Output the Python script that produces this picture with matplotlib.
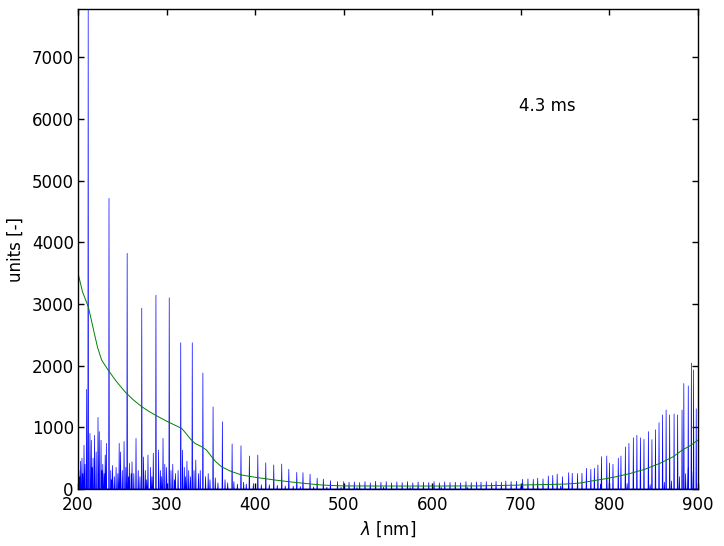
import matplotlib
matplotlib.use("Agg")
import matplotlib.pyplot as plt

# main comb peaks (nm, counts)
comb_nm = [211.5, 235, 255.5, 272, 288, 303, 316, 329, 341, 352.5, 363, 374, 384, 393.5, 403, 412, 421, 430,
           438, 447, 454, 462, 470, 477, 485, 493, 500,
           506, 512, 518, 524, 530, 536, 542, 548, 554, 560, 566, 572, 578, 584, 590, 596, 602, 608, 614,
           620, 626, 632, 638, 644, 650, 655, 661, 667, 672, 678, 683, 689, 695,
           702, 708, 714, 719, 725, 731, 736, 741, 747, 754, 758, 764, 769, 774, 779, 783, 787, 791, 797,
           800, 804, 810, 813, 818, 822, 827, 831, 835, 839, 844, 848, 852, 856, 860, 864, 868, 873, 877,
           882, 884, 889, 892.5, 895, 898]
comb_val = [7780, 4710, 3820, 2930, 3140, 3100, 2370, 2370, 1880, 1330, 1090, 730, 700, 535, 550, 425, 390, 405,
            320, 270, 265, 240, 175, 160, 135, 120, 120,
            110, 115, 105, 120, 100, 125, 110, 120, 100, 115, 105, 120, 100, 115, 110, 105, 120, 100, 115,
            105, 110, 100, 120, 105, 115, 110, 120, 100, 125, 110, 130, 120, 125,
            157, 165, 157, 175, 165, 211, 220, 243, 200, 265, 255, 250, 255, 335, 320, 335, 389, 524, 535,
            420, 400, 500, 535, 680, 740, 830, 870, 830, 805, 930, 800, 960, 1075, 1200, 1280, 1200, 1215, 1200,
            1280, 1710, 1670, 2040, 1930, 1300]

# secondary (noise) peaks (nm, counts)
minor_nm = [201, 202, 203, 204.5, 205.5, 206.8, 208, 209.8, 213.5, 215, 216, 217, 218.7, 220.5, 222.6, 224, 226,
            227, 228, 229.5, 230.7, 232, 237, 238, 239, 241, 243, 245, 246.5, 248, 250, 252, 254, 257, 258, 260,
            261, 263, 265.5, 268, 270, 274, 276, 277.5, 279, 282, 283.5, 285, 291, 293, 294.5, 296, 298, 300,
            305, 307, 309, 310, 313, 318, 320, 321.5, 323, 325, 327, 331, 333, 336, 338, 344, 347,
            349, 355, 358, 366, 369, 376, 380, 387, 390, 398, 407, 416, 425, 434, 443, 451, 466, 481, 497,
            515, 545, 575, 610, 640, 700, 745, 790, 820, 846, 862, 870, 879, 886, 889, 893]
minor_val = [300, 200, 450, 500, 250, 710, 400, 1615, 900, 790, 350, 500, 870, 600, 1160, 930, 790,
             300, 400, 250, 550, 740, 300, 150, 380, 200, 350, 250, 740, 600, 300, 770, 350, 200, 415, 250,
             440, 250, 820, 300, 200, 520, 300, 150, 550, 350, 200, 580, 630, 300, 200, 820, 400, 350,
             300, 400, 150, 250, 300, 630, 350, 200, 450, 300, 200, 300, 470, 250, 300, 200, 250,
             150, 180, 100, 150, 100, 120, 80, 110, 80, 90, 70, 70, 60, 50, 45, 40, 35, 30, 30,
             25, 30, 25, 30, 25, 40, 50, 80, 90, 70, 110, 130, 200, 250, 340, 280]

# smoothed curve (nm, counts)
smooth_nm = [200, 200, 205, 211.7, 218, 222, 226.7, 234, 243, 253, 262, 272, 281, 290.6, 300, 313, 317, 322,
             327, 332, 339.6, 345, 350, 355, 362, 372, 384.7, 400, 422, 440, 460, 475, 490, 500, 550, 600,
             650, 687, 720, 750, 766, 780, 795, 808, 823, 840, 857, 872, 883, 890, 900]
smooth_val = [0, 3500, 3200, 2950, 2550, 2300, 2090, 1928, 1750, 1577, 1450, 1334, 1250, 1172, 1100, 1010, 983, 900,
              810, 740, 686, 632, 540, 450, 361, 290, 227, 190, 146, 115, 85, 65, 55, 50, 48, 48,
              50, 60, 70, 80, 95, 130, 165, 200, 250, 320, 416, 523, 640, 690, 794]

xticks = [200, 300, 400, 500, 600, 700, 800, 900]
yticks = [0, 1000, 2000, 3000, 4000, 5000, 6000, 7000]

# build the spectrum line from peaks
peaks = sorted(list(zip(comb_nm, comb_val)) + list(zip(minor_nm, minor_val)))
hw = 0.4
spec_x, spec_y = [200.0], [0.0]
for p, h in peaks:
    spec_x += [p - hw, p, p + hw]
    spec_y += [0, h, 0]
spec_x.append(900.0)
spec_y.append(0.0)

fig = plt.figure(figsize=(7.24, 5.46), dpi=100, facecolor="white")
ax = fig.add_axes([78 / 724, 1 - 489 / 546, 620 / 724, 480 / 546])
ax.plot(spec_x, spec_y, color=(0, 0, 1), lw=0.5)
ax.plot(smooth_nm, smooth_val, color=(0, 0.5, 0), lw=0.7)

ax.set_xlim(200, 900)
ax.set_ylim(0, max(comb_val))
ax.set_xticks(xticks)
ax.set_yticks(yticks)
ax.tick_params(direction="in", top=True, right=True, length=4, width=1, labelsize=12)
ax.tick_params(axis="x", pad=5)
ax.tick_params(axis="y", pad=3)
for s in ax.spines.values():
    s.set_linewidth(1.0)
ax.set_xlabel(r"$\lambda$ [nm]", fontsize=12)
ax.set_ylabel("units [-]", fontsize=12, labelpad=5)
ax.text(698, 6200, "4.3 ms", fontsize=12, ha="left", va="center")

fig.savefig("out.png", dpi=100, facecolor="white")
